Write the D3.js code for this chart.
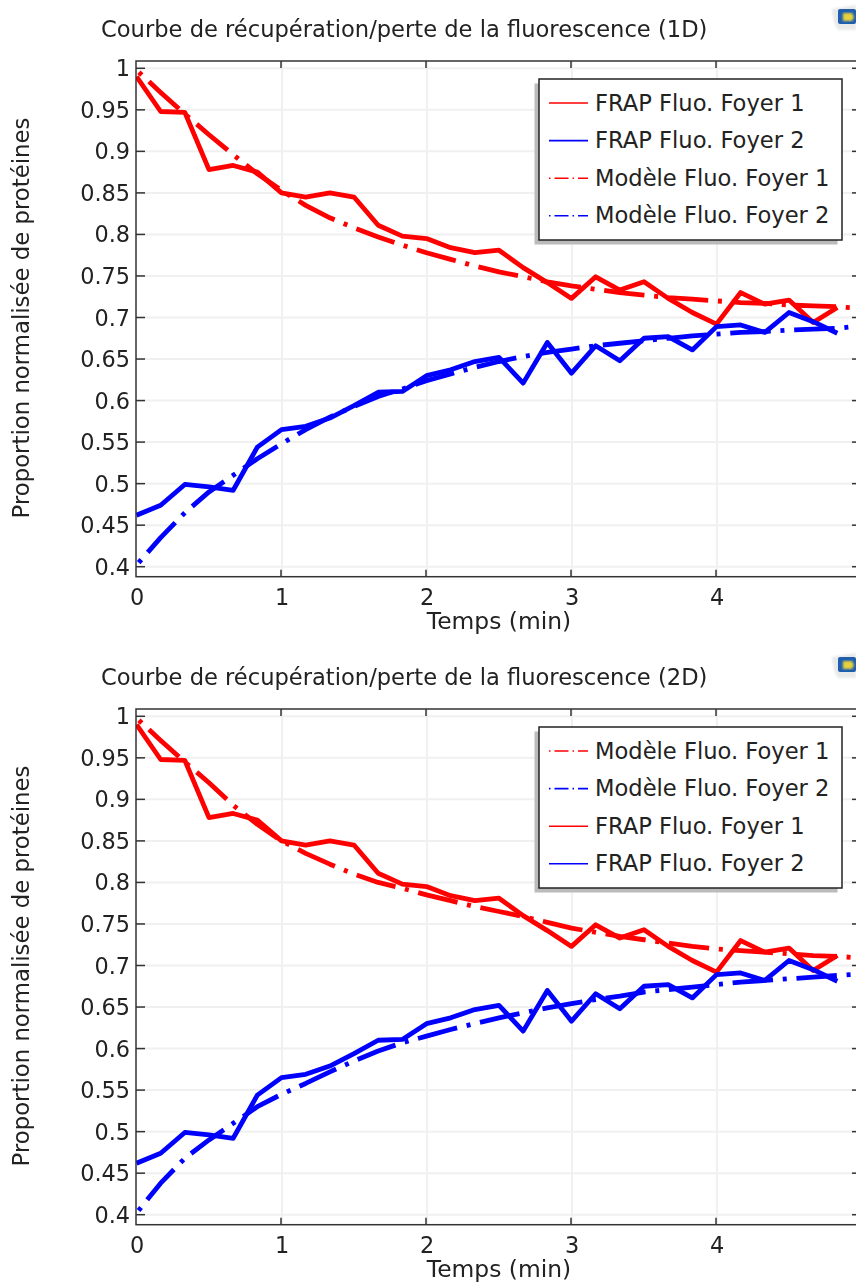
<!DOCTYPE html>
<html><head><meta charset="utf-8">
<script src="https://cdn.jsdelivr.net/npm/d3@7"></script>
<style>html,body{margin:0;padding:0;background:#fff;overflow:hidden}svg{display:block;filter:blur(0.4px)}text{font-family:"DejaVu Sans";fill:#222}</style>
</head><body><div id="c"></div>
<script>
const times=[0,0.1667,0.3333,0.5,0.6667,0.8333,1,1.1667,1.3333,1.5,1.6667,1.8333,2,2.1667,2.3333,2.5,2.6667,2.8333,3,3.1667,3.3333,3.5,3.6667,3.8333,4,4.1667,4.3333,4.5,4.6667,4.8333];
const modelTimes=[0,0.1667,0.3333,0.5,0.6667,0.8333,1,1.1667,1.3333,1.5,1.6667,1.8333,2,2.1667,2.3333,2.5,2.6667,2.8333,3,3.1667,3.3333,3.5,3.6667,3.8333,4,4.1667,4.3333,4.5,4.6667,4.8333,5];
const frap1=[.99,.948,.947,.878,.883,.875,.85,.845,.85,.845,.811,.798,.795,.784,.778,.781,.76,.742,.723,.749,.733,.743,.723,.706,.692,.730,.716,.721,.694,.712];
const frap2=[.462,.474,.499,.496,.492,.544,.565,.569,.579,.594,.610,.611,.630,.637,.647,.652,.621,.670,.633,.666,.648,.675,.677,.661,.689,.691,.682,.706,.695,.681];
const model1a=[.998,.971,.945,.92,.896,.873,.853,.835,.82,.808,.797,.787,.778,.77,.762,.755,.749,.743,.738,.734,.73,.727,.724,.722,.72,.718,.717,.715,.714,.713,.711];
const model2a=[.402,.435,.465,.49,.51,.53,.548,.565,.58,.593,.605,.614,.624,.632,.64,.647,.653,.658,.662,.666,.669,.672,.675,.678,.68,.682,.683,.685,.686,.687,.69];
const model1b=[.998,.971,.945,.92,.893,.87,.85,.835,.822,.81,.8,.793,.785,.778,.771,.765,.759,.752,.745,.74,.735,.731,.727,.723,.72,.718,.716,.714,.712,.711,.709];
const model2b=[.402,.438,.468,.49,.51,.53,.545,.558,.572,.585,.597,.607,.615,.623,.63,.637,.643,.649,.654,.659,.663,.668,.671,.674,.677,.68,.682,.684,.686,.688,.69];
const xTicks=[0,1,2,3,4,5];
const yTicks=[1,.95,.9,.85,.8,.75,.7,.65,.6,.55,.5,.45,.4];
const labelF1="FRAP Fluo. Foyer 1",labelF2="FRAP Fluo. Foyer 2",labelM1="Modèle Fluo. Foyer 1",labelM2="Modèle Fluo. Foyer 2";

const svg=d3.select("#c").append("svg").attr("width",856).attr("height",1282);
const xS=d3.scaleLinear().domain([0,5]).range([136.5,861.5]);
const yS=d3.scaleLinear().domain([1,.4]).range([68.3,566.7]);
const pTop=61,pBot=576.7,pLeft=136,pRight=861;
const defs=svg.append("defs");
defs.append("clipPath").attr("id","plot").append("rect").attr("x",pLeft).attr("y",pTop).attr("width",pRight-pLeft).attr("height",pBot-pTop);
defs.append("filter").attr("id","soft").append("feGaussianBlur").attr("stdDeviation",1);
const DASH="40.5,9.75,4,9.75";

function chart(dy,title,series){
  const g=svg.append("g").attr("transform",`translate(0,${dy})`);
  g.append("text").attr("x",101).attr("y",37).attr("font-size",22.6).text(title);
  xTicks.forEach(t=>{ if(t>0&&t<5) g.append("line").attr("x1",xS(t)+.5).attr("x2",xS(t)+.5).attr("y1",pTop).attr("y2",pBot).attr("stroke","#f0f0f0").attr("stroke-width",2);});
  yTicks.forEach(t=>g.append("line").attr("x1",pLeft).attr("x2",pRight).attr("y1",yS(t)).attr("y2",yS(t)).attr("stroke","#f0f0f0").attr("stroke-width",2));
  const pl=g.append("g").attr("clip-path","url(#plot)");
  series.forEach(s=>{
    const line=d3.line().x((d,i)=>xS(s.t[i])).y(d=>yS(d));
    pl.append("path").attr("d",line(s.v)).attr("fill","none").attr("stroke",s.c).attr("stroke-width",4.8).attr("stroke-linejoin","round").attr("stroke-dasharray",s.dash?DASH:null).attr("stroke-dashoffset",s.dash?47:null);
  });
  g.append("rect").attr("x",pLeft).attr("y",pTop).attr("width",pRight-pLeft).attr("height",pBot-pTop).attr("fill","none").attr("stroke","#333").attr("stroke-width",1.5);
  xTicks.forEach(t=>{ if(t>0&&t<5){
    g.append("line").attr("x1",xS(t)-.5).attr("x2",xS(t)-.5).attr("y1",pTop).attr("y2",pTop+7).attr("stroke","#333").attr("stroke-width",1.5);
    g.append("line").attr("x1",xS(t)-.5).attr("x2",xS(t)-.5).attr("y1",pBot).attr("y2",pBot-7).attr("stroke","#333").attr("stroke-width",1.5);}
    if(t<5) g.append("text").attr("x",xS(t)+.5).attr("y",605).attr("text-anchor","middle").attr("font-size",22.4).text(t);
  });
  yTicks.forEach(t=>{
    g.append("line").attr("x1",pLeft).attr("x2",pLeft+9).attr("y1",yS(t)).attr("y2",yS(t)).attr("stroke","#333").attr("stroke-width",1.5);
    g.append("line").attr("x1",pRight).attr("x2",pRight-9).attr("y1",yS(t)).attr("y2",yS(t)).attr("stroke","#333").attr("stroke-width",1.5);
    g.append("text").attr("x",130).attr("y",yS(t)+8).attr("text-anchor","end").attr("font-size",22.4).text(t);
  });
  g.append("text").attr("x",499).attr("y",629).attr("text-anchor","middle").attr("font-size",23.4).text("Temps (min)");
  g.append("text").attr("transform","translate(29,318) rotate(-90)").attr("text-anchor","middle").attr("font-size",22.8).text("Proportion normalisée de protéines");
  g.append("rect").attr("x",534.5).attr("y",83.5).attr("width",303).attr("height",161).attr("fill","#bbb");
  g.append("rect").attr("x",539).attr("y",79).attr("width",303).attr("height",161).attr("fill","#fff").attr("stroke","#222").attr("stroke-width",1.5);
  series.forEach((s,i)=>{
    const ly=103+i*37.6;
    g.append("line").attr("x1",549).attr("x2",588).attr("y1",ly).attr("y2",ly).attr("stroke",s.c).attr("stroke-width",1.6).attr("stroke-dasharray",s.dash?"1.5,4,14,4,1.5,4,10":null);
    g.append("text").attr("x",595).attr("y",ly+7.5).attr("font-size",22.6).text(s.l);
  });
  g.append("path").attr("d","M832,9 L856,5 L856,30 L838,30 Q833,24 832,9Z").attr("fill","#e8e9ea").attr("filter","url(#soft)");
  g.append("rect").attr("x",838).attr("y",9).attr("width",18).attr("height",15).attr("rx",2).attr("fill","#1f5fae");
  g.append("path").attr("d","M843,13 L852,13 L854,17 L852,21 L843,21Z").attr("fill","#e6d23c").attr("filter","url(#soft)");
}
const sF1={t:times,v:frap1,c:"#ff0000",l:labelF1},sF2={t:times,v:frap2,c:"#0000ff",l:labelF2};
chart(0,"Courbe de récupération/perte de la fluorescence (1D)",[sF1,sF2,{t:modelTimes,v:model1a,c:"#ff0000",l:labelM1,dash:1},{t:modelTimes,v:model2a,c:"#0000ff",l:labelM2,dash:1}]);
chart(648,"Courbe de récupération/perte de la fluorescence (2D)",[{t:modelTimes,v:model1b,c:"#ff0000",l:labelM1,dash:1},{t:modelTimes,v:model2b,c:"#0000ff",l:labelM2,dash:1},sF1,sF2]);
</script></body></html>
